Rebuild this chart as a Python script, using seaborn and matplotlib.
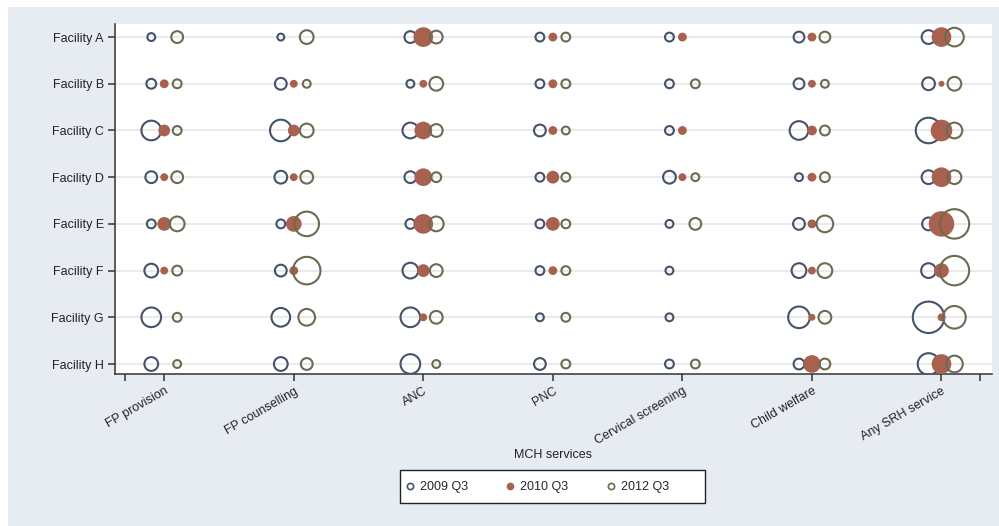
import matplotlib
matplotlib.use("Agg")
import matplotlib.pyplot as plt
from matplotlib.lines import Line2D
from matplotlib.patches import Rectangle
import pandas as pd
import seaborn as sns

# Facilities (rows, top to bottom) and services (columns, left to right)
facilities = ["Facility A", "Facility B", "Facility C", "Facility D",
              "Facility E", "Facility F", "Facility G", "Facility H"]
services = ["FP provision", "FP counselling", "ANC", "PNC",
            "Cervical screening", "Child welfare", "Any SRH service"]
periods = ["2009 Q3", "2010 Q3", "2012 Q3"]

# Service volume per facility (row) and service (column); 0 = not offered
v2009 = [
    [64, 49, 144, 81, 81, 121, 196],
    [100, 144, 64, 81, 81, 121, 169],
    [400, 484, 256, 144, 81, 361, 676],
    [144, 169, 144, 81, 169, 64, 196],
    [81, 81, 100, 81, 64, 144, 169],
    [196, 144, 256, 81, 64, 225, 225],
    [400, 361, 400, 64, 64, 484, 1024],
    [196, 196, 400, 144, 81, 121, 484],
]
v2010 = [
    [0, 0, 400, 81, 81, 81, 400],
    [81, 64, 64, 81, 0, 64, 36],
    [144, 144, 324, 81, 81, 100, 484],
    [64, 64, 324, 169, 64, 81, 400],
    [196, 256, 400, 196, 0, 81, 676],
    [64, 81, 169, 81, 0, 64, 225],
    [0, 0, 64, 0, 0, 49, 64],
    [0, 0, 0, 0, 0, 324, 400],
]
v2012 = [
    [144, 196, 169, 81, 0, 121, 361],
    [81, 64, 196, 81, 81, 64, 196],
    [81, 196, 169, 64, 0, 100, 256],
    [144, 169, 100, 81, 64, 100, 196],
    [225, 625, 225, 81, 144, 289, 900],
    [100, 784, 169, 81, 0, 225, 900],
    [81, 289, 169, 81, 0, 169, 529],
    [64, 144, 64, 81, 81, 121, 289],
]

colors = {"2009 Q3": "#44526b", "2010 Q3": "#a8604f", "2012 Q3": "#6d6a52"}
hollow = {"2009 Q3": True, "2010 Q3": False, "2012 Q3": True}
offset = {"2009 Q3": -0.1, "2010 Q3": 0.0, "2012 Q3": 0.1}

rows = []
for period, mat in zip(periods, [v2009, v2010, v2012]):
    for fi, fac in enumerate(facilities):
        for si, svc in enumerate(services):
            v = mat[fi][si]
            if v > 0:
                rows.append({"period": period, "facility": fac, "service": svc,
                             "value": v,
                             "x": si + 1 + offset[period],
                             "y": len(facilities) - fi})
df = pd.DataFrame(rows)

sns.set_style("ticks")
plt.rcParams["font.family"] = ["Liberation Sans", "DejaVu Sans"]

W, H = 999, 526
fig = plt.figure(figsize=(W / 100, H / 100), dpi=100)
fig.patch.set_facecolor("white")
bg = "#e6ecf2"
fig.patches.append(Rectangle((8 / W, 0), 1, 1 - 7 / H, transform=fig.transFigure,
                             facecolor=bg, edgecolor="none", zorder=-10))

ax = fig.add_axes([115 / W, 1 - 374 / H, (992 - 115) / W, (374 - 24) / H])
ax.set_facecolor("white")

vmax = 1024
smax = vmax * 0.5
for z, period in enumerate(periods):
    sub = df[df["period"] == period]
    c = colors[period]
    sns.scatterplot(data=sub, x="x", y="y", size="value", sizes=(0, smax),
                    size_norm=(0, vmax), legend=False, ax=ax, marker="o",
                    color=c, edgecolor=c,
                    linewidth=1.5 if hollow[period] else 0,
                    zorder=3 + z)
    pts = ax.collections[-1]
    if hollow[period]:
        pts.set_facecolor("none")
        pts.set_edgecolor(c)

ax.set_xlim(0.62, 7.39)
ax.set_ylim(0.786, 8.28)
ax.set_xticks([0.7] + list(range(1, 8)) + [7.3])
ax.set_xticklabels([""] + services + [""], rotation=30, ha="right",
                   rotation_mode="anchor", fontsize=9)
ax.set_yticks(range(1, len(facilities) + 1))
ax.set_yticklabels(facilities[::-1], fontsize=9)
ax.set_xlabel("")
ax.set_ylabel("")

ax.yaxis.grid(True, color="#e8e8e8", linewidth=1.3)
ax.xaxis.grid(False)
ax.set_axisbelow(True)
for side in ["top", "right"]:
    ax.spines[side].set_visible(False)
for side in ["left", "bottom"]:
    ax.spines[side].set_color("#333333")
    ax.spines[side].set_linewidth(1.1)
ax.tick_params(axis="both", length=5, width=1.1, color="#333333",
               labelcolor="#222222", pad=3)

fig.text(553 / W, 1 - 455 / H, "MCH services", ha="center", va="center",
         fontsize=9, color="#222222")

# Legend box
fig.patches.append(Rectangle((400 / W, 1 - 503 / H), 305 / W, 33 / H,
                             transform=fig.transFigure, facecolor="white",
                             edgecolor="#222222", linewidth=1.0, zorder=5))
handles = [
    Line2D([], [], linestyle="none", marker="o", markersize=4.5,
           markerfacecolor="none", markeredgecolor=colors["2009 Q3"], markeredgewidth=1.2),
    Line2D([], [], linestyle="none", marker="o", markersize=4.5,
           markerfacecolor=colors["2010 Q3"], markeredgecolor=colors["2010 Q3"]),
    Line2D([], [], linestyle="none", marker="o", markersize=4.5,
           markerfacecolor="none", markeredgecolor=colors["2012 Q3"], markeredgewidth=1.2),
]
leg = fig.legend(handles, periods, loc="center", bbox_to_anchor=(537 / W, 1 - 487 / H),
                 ncol=3, frameon=False, fontsize=9,
                 handletextpad=0.4, columnspacing=3.0, borderpad=0.3,
                 handlelength=0.8)
leg.set_zorder(6)

fig.savefig("out.png", dpi=100, facecolor=fig.get_facecolor())
